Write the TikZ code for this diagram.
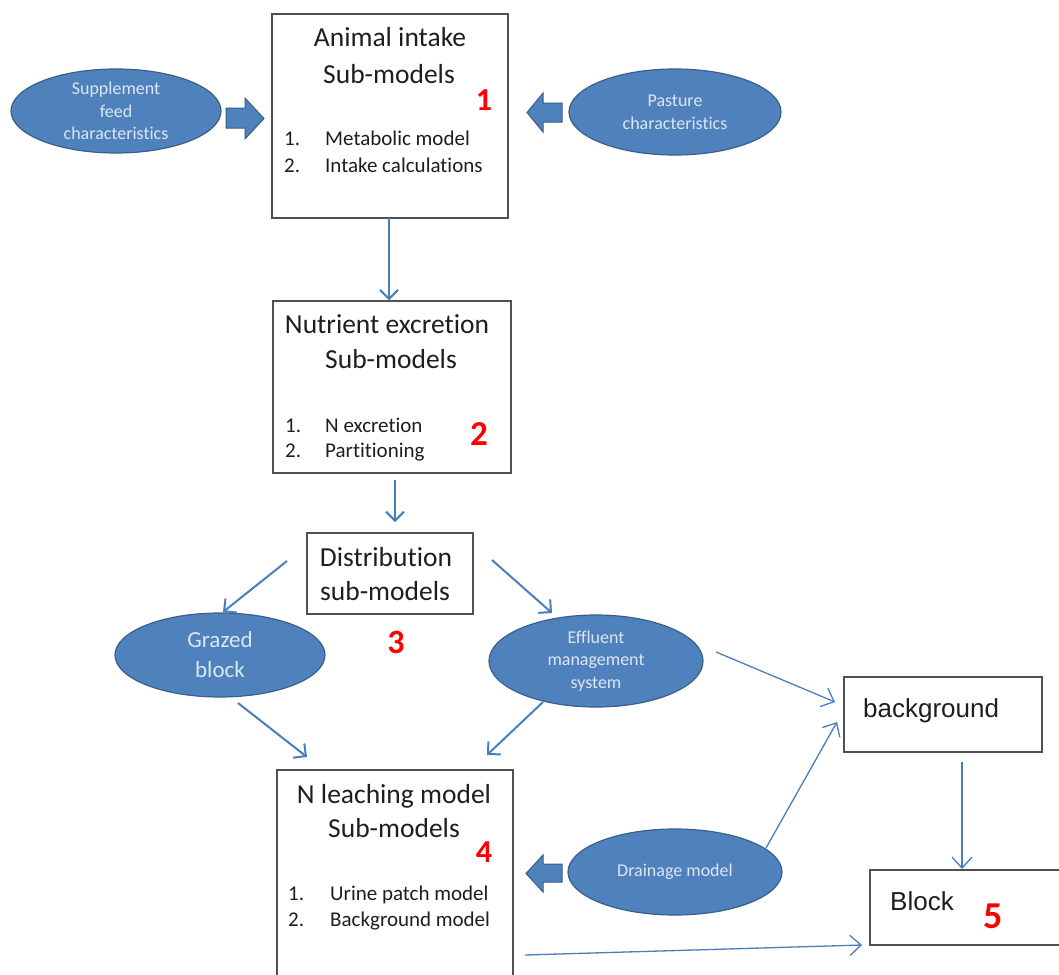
\documentclass[tikz,border=0pt]{standalone}
\usepackage{fontspec}
\setmainfont{Carlito}[Ligatures={NoCommon,NoRare,NoContextual}]
\newfontfamily\arialf{Liberation Sans}
\usetikzlibrary{arrows.meta,shapes.geometric}
\definecolor{ellfill}{HTML}{4F81BD}
\definecolor{elldraw}{HTML}{3A5F8B}
\definecolor{elltext}{HTML}{DCE6F2}
\definecolor{arrowblue}{HTML}{4A7EBB}
\definecolor{boxgray}{HTML}{505050}
\definecolor{txt}{HTML}{1E1E1E}
\definecolor{rednum}{HTML}{FF0000}
\begin{document}
\begin{tikzpicture}[x=1pt,y=-1pt,
  box/.style={draw=boxgray,line width=1.4pt,fill=white,inner sep=0pt},
  ell/.style={ellipse,draw=elldraw,line width=1.2pt,fill=ellfill,text=elltext,inner sep=0pt,align=center},
  head/.style={anchor=base,text=txt,inner sep=0pt,font=\fontsize{27.5}{33}\selectfont},
  item/.style={anchor=base west,text=txt,inner sep=0pt,font=\fontsize{21}{25}\selectfont},
  num/.style={anchor=base,text=rednum,inner sep=0pt,font=\bfseries\fontsize{#1}{#1}\selectfont},
  arl/.style={anchor=base west,text=txt,inner sep=0pt,font=\arialf\fontsize{26}{30}\selectfont},
  conn/.style={draw=arrowblue,line width=2pt,-{Straight Barb[length=9pt,width=18pt]}},
  thinconn/.style={draw=arrowblue,line width=1.3pt,-{Straight Barb[length=11pt,width=20pt]}},
  blockarr/.style={fill=ellfill,draw=elldraw,line width=1pt}]
\clip (0,0) rectangle (1059,974);
\fill[white] (0,0) rectangle (1059,974);

% boxes
\node[box,minimum width=236pt,minimum height=204pt] (b1) at (390,116) {};
\node[box,minimum width=238pt,minimum height=172pt] (b2) at (392,387) {};
\node[box,minimum width=166pt,minimum height=81pt] (dist) at (390,573.5) {};
\node[box,minimum width=236pt,minimum height=220pt] (b4) at (395,880) {};
\node[box,minimum width=198pt,minimum height=75pt] (bg) at (943,714.5) {};
\node[box,minimum width=200pt,minimum height=75pt] (blk) at (970,907.5) {};

% ellipses
\node[ell,minimum width=210pt,minimum height=84pt,font=\fontsize{18}{22.5}\selectfont] (supp) at (116,111) {Supplement\\feed\\characteristics};
\node[ell,minimum width=212pt,minimum height=86pt,font=\fontsize{18}{23}\selectfont] (past) at (675,112) {Pasture\\characteristics};
\node[ell,minimum width=210pt,minimum height=84pt,font=\fontsize{23}{30}\selectfont] (graz) at (220,655) {Grazed\\block};
\node[ell,minimum width=214pt,minimum height=92pt,font=\fontsize{18}{22.5}\selectfont] (eff) at (596,661) {Effluent\\management\\system};
\node[ell,minimum width=214pt,minimum height=86pt,font=\fontsize{18}{22}\selectfont] (drain) at (675,872) {Drainage model};

% box 1 texts
\node[head] (t1a) at (390,46) {Animal intake};
\node[head] (t1b) at (389,83) {Sub-models};
\node[item] (t1c) at (284,145) {1.};
\node[item] (t1d) at (325,145) {Metabolic model};
\node[item] (t1e) at (284,172) {2.};
\node[item] (t1f) at (325,172) {Intake calculations};
\node[num=32] (n1) at (484,110) {1};

% box 2 texts
\node[head] (t2a) at (387,333) {Nutrient excretion};
\node[head] (t2b) at (391,368) {Sub-models};
\node[item] (t2c) at (285,432) {1.};
\node[item] (t2d) at (325,432) {N excretion};
\node[item] (t2e) at (285,457) {2.};
\node[item] (t2f) at (325,457) {Partitioning};
\node[num=35] (n2) at (479,445) {2};

% distribution
\node[head] (t3a) at (386,566) {Distribution};
\node[head] (t3b) at (385,600) {sub-models};
\node[num=34] (n3) at (396,653) {3};

% box 4 texts
\node[head] (t4a) at (394,803) {N leaching model};
\node[head] (t4b) at (394,837) {Sub-models};
\node[item] (t4c) at (288,900) {1.};
\node[item] (t4d) at (330,900) {Urine patch model};
\node[item] (t4e) at (288,926) {2.};
\node[item] (t4f) at (330,926) {Background model};
\node[num=32] (n4) at (484,862) {4};

% background and block
\node[arl] (tbg) at (863,717) {background};
\node[arl] (tblk) at (890,910) {Block};
\node[num=38] (n5) at (993,928) {5};

% block arrows
\draw[blockarr] (226,108) -- (245,108) -- (245,98) -- (264,118.5) -- (245,139) -- (245,128) -- (226,128) -- cycle;
\draw[blockarr] (562,103) -- (543,103) -- (543,93) -- (527,112.5) -- (543,132) -- (543,122) -- (562,122) -- cycle;
\draw[blockarr] (562,864) -- (543,864) -- (543,855) -- (526,873.5) -- (543,892) -- (543,882) -- (562,882) -- cycle;

% connector end points
\coordinate (c12a) at (389,218);
\coordinate (c23a) at (395,480);
\coordinate (c23b) at (395,522);
\coordinate (dg1) at (287,561);
\coordinate (dg2) at (223,612);
\coordinate (de1) at (492,560);
\coordinate (de2) at (552,613);
\coordinate (g41) at (238,703);
\coordinate (g42) at (307,757);
\coordinate (e41) at (543,702);
\coordinate (e42) at (487,755);
\coordinate (eb1) at (716,652);
\coordinate (eb2) at (835,702);
\coordinate (db1) at (766,848);
\coordinate (db2) at (837,722);
\coordinate (bb1) at (962,762);
\coordinate (bb2) at (962,869);
\coordinate (kb1) at (525,955);
\coordinate (kb2) at (862,945);

\draw[conn] (c12a) -- (b2.north -| c12a);
\draw[conn] (c23a) -- (c23b);
\draw[conn] (dg1) -- (dg2);
\draw[conn] (de1) -- (de2);
\draw[conn] (g41) -- (g42);
\draw[conn] (e41) -- (e42);
\draw[thinconn] (eb1) -- (eb2);
\draw[thinconn] (db1) -- (db2);
\draw[thinconn] (bb1) -- (bb2);
\draw[thinconn] (kb1) -- (kb2);
\end{tikzpicture}
\end{document}
